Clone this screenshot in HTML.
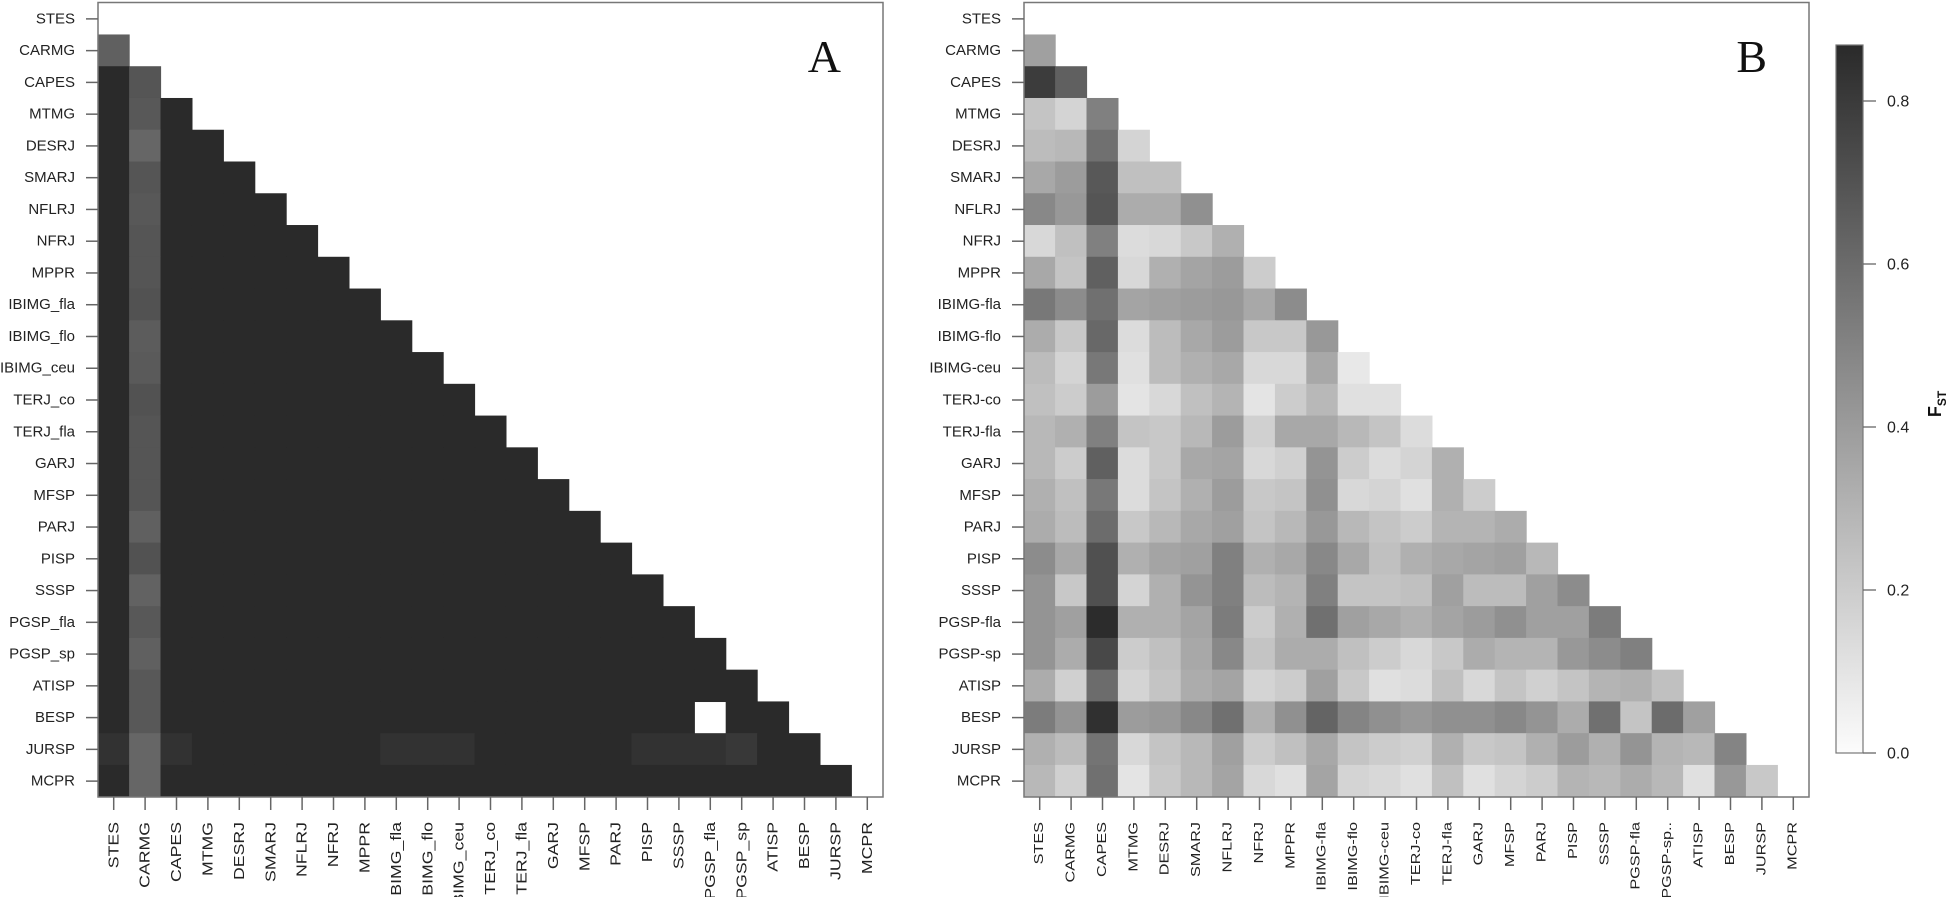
<!DOCTYPE html>
<html><head><meta charset="utf-8"><style>
html,body{margin:0;padding:0;background:#fff;}
svg{display:block;font-family:"Liberation Sans",Arial,sans-serif;}
.rl{font-size:15px;text-anchor:end;dominant-baseline:central;fill:#222;}
.cl{font-size:15px;text-anchor:end;dominant-baseline:central;fill:#222;}
.cb{font-size:12.5px;text-anchor:end;dominant-baseline:central;fill:#222;}
</style></head><body>
<svg id="s" width="1946" height="897" viewBox="0 0 1946 897" xmlns="http://www.w3.org/2000/svg">
<defs><linearGradient id="g" x1="0" y1="1" x2="0" y2="0"><stop offset="0" stop-color="#fcfcfc"/><stop offset="1" stop-color="#2a2a2a"/></linearGradient></defs>
<g id="cellsA"></g><g id="cellsB"></g>
<rect x="98" y="2.5" width="785" height="794.5" fill="none" stroke="#777" stroke-width="1.5"/>
<rect x="1024" y="2.5" width="785" height="794.5" fill="none" stroke="#777" stroke-width="1.5"/>
<g id="ticks" stroke="#666" stroke-width="1.5"></g>
<text x="841" y="72" font-family="Liberation Serif,serif" font-size="46" text-anchor="end" fill="#111">A</text>
<text x="1767" y="72" font-family="Liberation Serif,serif" font-size="46" text-anchor="end" fill="#111">B</text>
<g>
<text class="rl" x="75" y="18.9">STES</text><text class="rl" x="75" y="50.6">CARMG</text><text class="rl" x="75" y="82.4">CAPES</text><text class="rl" x="75" y="114.2">MTMG</text><text class="rl" x="75" y="145.9">DESRJ</text><text class="rl" x="75" y="177.7">SMARJ</text><text class="rl" x="75" y="209.4">NFLRJ</text><text class="rl" x="75" y="241.2">NFRJ</text><text class="rl" x="75" y="273">MPPR</text><text class="rl" x="75" y="304.7">IBIMG_fla</text><text class="rl" x="75" y="336.5">IBIMG_flo</text><text class="rl" x="75" y="368.2">IBIMG_ceu</text><text class="rl" x="75" y="400">TERJ_co</text><text class="rl" x="75" y="431.8">TERJ_fla</text><text class="rl" x="75" y="463.5">GARJ</text><text class="rl" x="75" y="495.3">MFSP</text><text class="rl" x="75" y="527">PARJ</text><text class="rl" x="75" y="558.8">PISP</text><text class="rl" x="75" y="590.6">SSSP</text><text class="rl" x="75" y="622.3">PGSP_fla</text><text class="rl" x="75" y="654.1">PGSP_sp</text><text class="rl" x="75" y="685.8">ATISP</text><text class="rl" x="75" y="717.6">BESP</text><text class="rl" x="75" y="749.4">JURSP</text><text class="rl" x="75" y="781.1">MCPR</text>
</g>
<g>
<text class="rl" x="1001" y="18.9">STES</text><text class="rl" x="1001" y="50.6">CARMG</text><text class="rl" x="1001" y="82.4">CAPES</text><text class="rl" x="1001" y="114.2">MTMG</text><text class="rl" x="1001" y="145.9">DESRJ</text><text class="rl" x="1001" y="177.7">SMARJ</text><text class="rl" x="1001" y="209.4">NFLRJ</text><text class="rl" x="1001" y="241.2">NFRJ</text><text class="rl" x="1001" y="273">MPPR</text><text class="rl" x="1001" y="304.7">IBIMG-fla</text><text class="rl" x="1001" y="336.5">IBIMG-flo</text><text class="rl" x="1001" y="368.2">IBIMG-ceu</text><text class="rl" x="1001" y="400">TERJ-co</text><text class="rl" x="1001" y="431.8">TERJ-fla</text><text class="rl" x="1001" y="463.5">GARJ</text><text class="rl" x="1001" y="495.3">MFSP</text><text class="rl" x="1001" y="527">PARJ</text><text class="rl" x="1001" y="558.8">PISP</text><text class="rl" x="1001" y="590.6">SSSP</text><text class="rl" x="1001" y="622.3">PGSP-fla</text><text class="rl" x="1001" y="654.1">PGSP-sp</text><text class="rl" x="1001" y="685.8">ATISP</text><text class="rl" x="1001" y="717.6">BESP</text><text class="rl" x="1001" y="749.4">JURSP</text><text class="rl" x="1001" y="781.1">MCPR</text>
</g>
<g>
<text class="cl" transform="translate(113.7,822) rotate(-90) scale(1.18,1)">STES</text>
<text class="cl" transform="translate(145.1,822) rotate(-90) scale(1.18,1)">CARMG</text>
<text class="cl" transform="translate(176.5,822) rotate(-90) scale(1.18,1)">CAPES</text>
<text class="cl" transform="translate(207.9,822) rotate(-90) scale(1.18,1)">MTMG</text>
<text class="cl" transform="translate(239.3,822) rotate(-90) scale(1.18,1)">DESRJ</text>
<text class="cl" transform="translate(270.7,822) rotate(-90) scale(1.18,1)">SMARJ</text>
<text class="cl" transform="translate(302.1,822) rotate(-90) scale(1.18,1)">NFLRJ</text>
<text class="cl" transform="translate(333.5,822) rotate(-90) scale(1.18,1)">NFRJ</text>
<text class="cl" transform="translate(364.9,822) rotate(-90) scale(1.18,1)">MPPR</text>
<text class="cl" transform="translate(396.3,822) rotate(-90) scale(1.18,1)">IBIMG_fla</text>
<text class="cl" transform="translate(427.7,822) rotate(-90) scale(1.18,1)">IBIMG_flo</text>
<text class="cl" transform="translate(459.1,822) rotate(-90) scale(1.18,1)">IBIMG_ceu</text>
<text class="cl" transform="translate(490.5,822) rotate(-90) scale(1.18,1)">TERJ_co</text>
<text class="cl" transform="translate(521.9,822) rotate(-90) scale(1.18,1)">TERJ_fla</text>
<text class="cl" transform="translate(553.3,822) rotate(-90) scale(1.18,1)">GARJ</text>
<text class="cl" transform="translate(584.7,822) rotate(-90) scale(1.18,1)">MFSP</text>
<text class="cl" transform="translate(616.1,822) rotate(-90) scale(1.18,1)">PARJ</text>
<text class="cl" transform="translate(647.5,822) rotate(-90) scale(1.18,1)">PISP</text>
<text class="cl" transform="translate(678.9,822) rotate(-90) scale(1.18,1)">SSSP</text>
<text class="cl" transform="translate(710.3,822) rotate(-90) scale(1.18,1)">PGSP_fla</text>
<text class="cl" transform="translate(741.7,822) rotate(-90) scale(1.18,1)">PGSP_sp</text>
<text class="cl" transform="translate(773.1,822) rotate(-90) scale(1.18,1)">ATISP</text>
<text class="cl" transform="translate(804.5,822) rotate(-90) scale(1.18,1)">BESP</text>
<text class="cl" transform="translate(835.9,822) rotate(-90) scale(1.18,1)">JURSP</text>
<text class="cl" transform="translate(867.3,822) rotate(-90) scale(1.18,1)">MCPR</text>
</g>
<g>
<text class="cb" transform="translate(1039.7,822) rotate(-90) scale(1.3,1)">STES</text>
<text class="cb" transform="translate(1071.1,822) rotate(-90) scale(1.3,1)">CARMG</text>
<text class="cb" transform="translate(1102.5,822) rotate(-90) scale(1.3,1)">CAPES</text>
<text class="cb" transform="translate(1133.9,822) rotate(-90) scale(1.3,1)">MTMG</text>
<text class="cb" transform="translate(1165.3,822) rotate(-90) scale(1.3,1)">DESRJ</text>
<text class="cb" transform="translate(1196.7,822) rotate(-90) scale(1.3,1)">SMARJ</text>
<text class="cb" transform="translate(1228.1,822) rotate(-90) scale(1.3,1)">NFLRJ</text>
<text class="cb" transform="translate(1259.5,822) rotate(-90) scale(1.3,1)">NFRJ</text>
<text class="cb" transform="translate(1290.9,822) rotate(-90) scale(1.3,1)">MPPR</text>
<text class="cb" transform="translate(1322.3,822) rotate(-90) scale(1.3,1)">IBIMG-fla</text>
<text class="cb" transform="translate(1353.7,822) rotate(-90) scale(1.3,1)">IBIMG-flo</text>
<text class="cb" transform="translate(1385.1,822) rotate(-90) scale(1.3,1)">IBIMG-ceu</text>
<text class="cb" transform="translate(1416.5,822) rotate(-90) scale(1.3,1)">TERJ-co</text>
<text class="cb" transform="translate(1447.9,822) rotate(-90) scale(1.3,1)">TERJ-fla</text>
<text class="cb" transform="translate(1479.3,822) rotate(-90) scale(1.3,1)">GARJ</text>
<text class="cb" transform="translate(1510.7,822) rotate(-90) scale(1.3,1)">MFSP</text>
<text class="cb" transform="translate(1542.1,822) rotate(-90) scale(1.3,1)">PARJ</text>
<text class="cb" transform="translate(1573.5,822) rotate(-90) scale(1.3,1)">PISP</text>
<text class="cb" transform="translate(1604.9,822) rotate(-90) scale(1.3,1)">SSSP</text>
<text class="cb" transform="translate(1636.3,822) rotate(-90) scale(1.3,1)">PGSP-fla</text>
<text class="cb" transform="translate(1667.7,822) rotate(-90) scale(1.3,1)">PGSP-sp..</text>
<text class="cb" transform="translate(1699.1,822) rotate(-90) scale(1.3,1)">ATISP</text>
<text class="cb" transform="translate(1730.5,822) rotate(-90) scale(1.3,1)">BESP</text>
<text class="cb" transform="translate(1761.9,822) rotate(-90) scale(1.3,1)">JURSP</text>
<text class="cb" transform="translate(1793.3,822) rotate(-90) scale(1.3,1)">MCPR</text>
</g>
<rect x="1836" y="45" width="27" height="708" fill="url(#g)" stroke="#777" stroke-width="1.2"/>
<g stroke="#666" stroke-width="1.3">
<line x1="1863" y1="101" x2="1876" y2="101"/><line x1="1863" y1="264" x2="1876" y2="264"/><line x1="1863" y1="427" x2="1876" y2="427"/><line x1="1863" y1="590" x2="1876" y2="590"/><line x1="1863" y1="753" x2="1876" y2="753"/>
</g>
<g font-size="16" fill="#222" dominant-baseline="central">
<text x="1887" y="102">0.8</text><text x="1887" y="265">0.6</text><text x="1887" y="428">0.4</text><text x="1887" y="591">0.2</text><text x="1887" y="754">0.0</text>
</g>
<text transform="translate(1941,404) rotate(-90)" font-size="18" font-weight="bold" fill="#111" text-anchor="middle">F<tspan font-size="12" dy="5">ST</tspan></text>
</svg>
<script>
var NS="http://www.w3.org/2000/svg";
function rect(g,x,y,w,h,c){var r=document.createElementNS(NS,"rect");r.setAttribute("x",x);r.setAttribute("y",y);r.setAttribute("width",w);r.setAttribute("height",h);r.setAttribute("fill",c);g.appendChild(r);}
var cw=31.4,ch=31.76,y0=3;
var gA=document.getElementById("cellsA"),gB=document.getElementById("cellsB");
var carm=[0x60,0x55,0x58,0x66,0x55,0x58,0x55,0x55,0x52,0x5c,0x5a,0x52,0x55,0x55,0x55,0x60,0x52,0x62,0x58,0x60,0x58,0x58,0x66,0x66];
for(var i=1;i<25;i++){for(var j=0;j<i;j++){
 var v=0x2a;
 if(j==1)v=carm[i-1]; if(i==1&&j==0)v=0x60;
 if(i==22&&j==19){continue;}
 if(i==23&&(j==0||j==2||j==9||j==10||j==11||j==17||j==18||j==19||j==20))v=0x32;
 if(i==23&&j==20)v=0x38;
 var c="rgb("+v+","+v+","+v+")";
 rect(gA,98+j*cw-0.3,y0+i*ch-0.3,cw+0.6,ch+0.6,c);}}
var B=[[],
[0xa0],
[0x3c,0x60],
[0xc4,0xd4,0x80],
[0xbc,0xb8,0x70,0xd4],
[0xa8,0x9c,0x58,0xc0,0xc0],
[0x88,0x98,0x55,0xac,0xac,0x90],
[0xd8,0xc0,0x80,0xdc,0xd8,0xc8,0xb0],
[0xa8,0xc4,0x60,0xd8,0xb0,0xa4,0x9c,0xcc],
[0x78,0x8c,0x70,0xa4,0xa0,0x9c,0x98,0xa8,0x8c],
[0xac,0xc8,0x68,0xdc,0xbc,0xa8,0x9c,0xc8,0xc8,0x98],
[0xbc,0xd4,0x78,0xe0,0xbc,0xb0,0xa8,0xd8,0xd8,0xa8,0xe8],
[0xc0,0xcc,0x9c,0xe4,0xd8,0xc0,0xb4,0xe4,0xcc,0xb8,0xe0,0xe0],
[0xb8,0xb0,0x80,0xc4,0xc8,0xb8,0x9c,0xd0,0xa8,0xa8,0xb8,0xc4,0xdc],
[0xb8,0xcc,0x60,0xdc,0xc8,0xa8,0xa4,0xd8,0xd0,0x94,0xcc,0xdc,0xd4,0xb0],
[0xb0,0xc0,0x78,0xdc,0xc4,0xb0,0x9c,0xc8,0xc4,0x90,0xd8,0xd4,0xe0,0xb0,0xcc],
[0xac,0xbc,0x6c,0xc8,0xb8,0xa8,0xa0,0xc4,0xb8,0x98,0xb8,0xc4,0xcc,0xb4,0xb4,0xac],
[0x8c,0xa8,0x50,0xb0,0xa4,0xa0,0x80,0xb0,0xa8,0x88,0xa8,0xc0,0xb0,0xa8,0xa4,0xa0,0xb8],
[0x94,0xc8,0x50,0xd4,0xb0,0x94,0x80,0xbc,0xb4,0x80,0xc4,0xc4,0xc0,0xa0,0xbc,0xbc,0xa0,0x8c],
[0x94,0xa0,0x2c,0xb0,0xb0,0xa4,0x7c,0xcc,0xb0,0x70,0xa0,0xa8,0xb0,0xa4,0x9c,0x90,0xa0,0xa0,0x7c],
[0x94,0xac,0x48,0xcc,0xc0,0xa8,0x88,0xc4,0xac,0xac,0xc0,0xcc,0xd8,0xc8,0xac,0xb4,0xb4,0x98,0x8c,0x80],
[0xac,0xd0,0x6c,0xd4,0xc4,0xac,0xa4,0xd4,0xcc,0xa0,0xc8,0xe0,0xdc,0xc0,0xd8,0xc4,0xd0,0xc4,0xb4,0xb0,0xc0],
[0x7c,0x94,0x30,0x9c,0x98,0x88,0x70,0xb0,0x90,0x64,0x84,0x90,0x98,0x90,0x90,0x88,0x94,0xac,0x70,0xc4,0x6c,0xa0],
[0xb0,0xbc,0x74,0xd8,0xc4,0xb8,0xa0,0xcc,0xc0,0xa8,0xc4,0xcc,0xd0,0xb0,0xc8,0xc4,0xb0,0x9c,0xb0,0x94,0xb4,0xb8,0x84],
[0xb8,0xd0,0x70,0xe4,0xc8,0xb8,0xa4,0xd8,0xe0,0xa4,0xd4,0xd8,0xe0,0xc0,0xe0,0xd4,0xcc,0xb4,0xb8,0xac,0xb8,0xe0,0x98,0xc8]];
for(var i=1;i<25;i++){for(var j=0;j<B[i].length;j++){var v=B[i][j];
 rect(gB,1024+j*cw-0.3,y0+i*ch-0.3,cw+0.6,ch+0.6,"rgb("+v+","+v+","+v+")");}}
var t=document.getElementById("ticks");
function ln(x1,y1,x2,y2){var l=document.createElementNS(NS,"line");l.setAttribute("x1",x1);l.setAttribute("y1",y1);l.setAttribute("x2",x2);l.setAttribute("y2",y2);t.appendChild(l);}
for(var k=0;k<25;k++){var y=y0+(k+0.5)*ch;ln(86,y,98,y);ln(1012,y,1024,y);
 var xa=98+(k+0.5)*cw,xb=1024+(k+0.5)*cw;ln(xa,797,xa,810);ln(xb,797,xb,810);}
</script>
</body></html>
